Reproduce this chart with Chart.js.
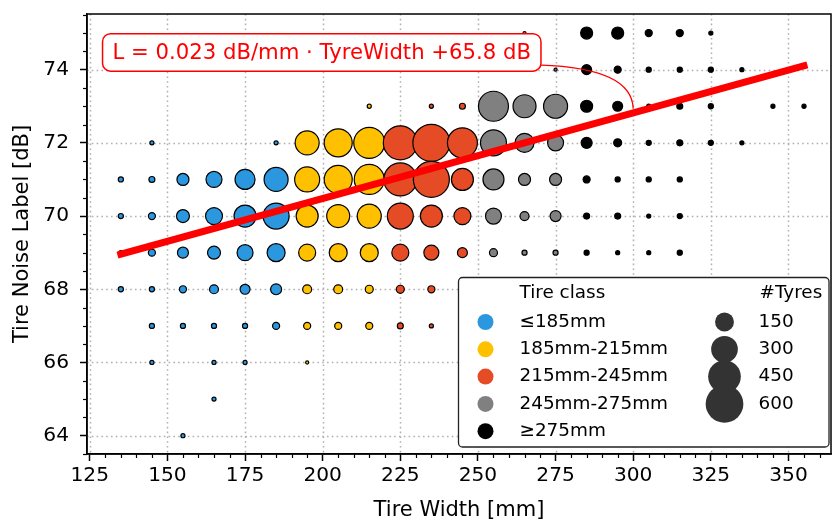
<!DOCTYPE html>
<html>
<head>
<meta charset="utf-8">
<script src="https://cdn.jsdelivr.net/npm/chart.js@4.4.1/dist/chart.umd.min.js"></script>
<style>
  html, body { margin: 0; padding: 0; background: #ffffff; }
  #wrap { width: 833px; height: 523px; }
  canvas { display: block; }
</style>
</head>
<body>
<div id="wrap"><canvas id="noiseChart" width="833" height="523"></canvas></div>
<script>
// Tyre widths (mm) on the x axis and noise label levels (dB) on the y axis
const tyreWidths = [135, 145, 155, 165, 175, 185, 195, 205, 215, 225, 235, 245,
                    255, 265, 275, 285, 295, 305, 315, 325, 335, 345, 355];
const noiseLevels = [75, 74, 73, 72, 71, 70, 69, 68, 67, 66, 65, 64];

// Number of tyres for each width at a given noise label (0 = no tyres)
const tyres75 = [0, 0, 0, 0, 0, 0, 0, 0, 0, 0, 0, 0, 0, 4, 0, 61, 61, 21, 21, 7, 0, 0, 0];
const tyres74 = [0, 0, 0, 0, 0, 0, 0, 0, 0, 0, 0, 0, 0, 0, 4, 42, 21, 11, 11, 11, 7, 0, 0];
const tyres73 = [0, 0, 0, 0, 0, 0, 0, 0, 7, 0, 7, 15, 379, 223, 243, 61, 42, 7, 15, 11, 0, 7, 7];
const tyres72 = [0, 7, 0, 0, 0, 7, 243, 331, 405, 487, 577, 379, 285, 152, 108, 51, 27, 11, 15, 11, 7, 0, 0];
const tyres71 = [11, 15, 61, 108, 169, 243, 264, 331, 379, 459, 546, 204, 186, 61, 61, 21, 11, 11, 11, 0, 0, 0, 0];
const tyres70 = [11, 21, 71, 122, 204, 285, 204, 223, 243, 285, 204, 122, 108, 34, 51, 15, 15, 7, 11, 0, 0, 0, 0];
const tyres69 = [7, 21, 51, 71, 108, 137, 122, 137, 137, 122, 95, 42, 27, 11, 11, 11, 7, 7, 11, 0, 0, 0, 0];
const tyres68 = [11, 11, 21, 34, 42, 51, 34, 34, 27, 27, 21, 0, 0, 0, 0, 0, 0, 0, 0, 0, 0, 0, 0];
const tyres67 = [0, 11, 11, 11, 11, 21, 21, 21, 21, 15, 7, 0, 0, 0, 0, 0, 0, 0, 0, 0, 0, 0, 0];
const tyres66 = [0, 7, 0, 7, 7, 0, 4, 0, 0, 0, 0, 0, 0, 0, 0, 0, 0, 0, 0, 0, 0, 0, 0];
const tyres65 = [0, 0, 0, 7, 0, 0, 0, 0, 0, 0, 0, 0, 0, 0, 0, 0, 0, 0, 0, 0, 0, 0, 0];
const tyres64 = [0, 0, 7, 0, 0, 0, 0, 0, 0, 0, 0, 0, 0, 0, 0, 0, 0, 0, 0, 0, 0, 0, 0];
const tyreRows = [tyres75, tyres74, tyres73, tyres72, tyres71, tyres70,
                  tyres69, tyres68, tyres67, tyres66, tyres65, tyres64];

// Width classes
const classNames = ['≤185mm', '185mm-215mm', '215mm-245mm', '245mm-275mm', '≥275mm'];
const classUpperWidth = [185, 215, 245, 275, Infinity];
const classColors = ['#2b97de', '#ffc000', '#e54c26', '#808080', '#000000'];

// Size key
const sizeKeyCounts = [150, 300, 450, 600];

// Linear fit of noise label against tyre width
const fitSlope = 0.0234;
const fitIntercept = 65.8;
const fitWidths = [135, 355];
const notePointWidth = 300;

// Axis ticks
const xTickValues = [125, 150, 175, 200, 225, 250, 275, 300, 325, 350];
const yTickValues = [64, 66, 68, 70, 72, 74];

const FONT = '"DejaVu Sans", "Liberation Sans", sans-serif';
const bubbleRadius = n => 0.77 * Math.sqrt(n);
const fitValue = w => fitSlope * w + fitIntercept;

function classOf(w) {
  for (let i = 0; i < classUpperWidth.length; i++) if (w <= classUpperWidth[i]) return i;
  return classUpperWidth.length - 1;
}

// One bubble dataset per width class
const bubbleSets = classNames.map((name, ci) => {
  const pts = [];
  tyreRows.forEach((row, ri) => {
    row.forEach((n, wi) => {
      if (n > 0 && classOf(tyreWidths[wi]) === ci) {
        pts.push({ x: tyreWidths[wi], y: noiseLevels[ri], r: bubbleRadius(n), n });
      }
    });
  });
  pts.sort((a, b) => a.x - b.x);
  return {
    type: 'bubble',
    label: name,
    data: pts,
    backgroundColor: classColors[ci],
    borderColor: '#000000',
    borderWidth: 1.2,
    order: classNames.length - ci
  };
});

const fitSet = {
  type: 'line',
  label: 'fit',
  data: fitWidths.map(w => ({ x: w, y: fitValue(w) })),
  borderColor: '#ff0000',
  borderWidth: 7,
  borderCapStyle: 'square',
  pointRadius: 0,
  fill: false,
  order: 0
};

// Dotted grid, minor ticks and the frame
const framePlugin = {
  id: 'frame',
  beforeDatasetsDraw(chart) {
    const { ctx, chartArea: a, scales: { x, y } } = chart;
    ctx.save();
    ctx.strokeStyle = '#b0b0b0';
    ctx.lineWidth = 1.5;
    ctx.setLineDash([1.6, 3.2]);
    xTickValues.forEach(v => {
      const px = Math.round(x.getPixelForValue(v)) + 0.5;
      ctx.beginPath(); ctx.moveTo(px, a.top); ctx.lineTo(px, a.bottom); ctx.stroke();
    });
    yTickValues.forEach(v => {
      const py = Math.round(y.getPixelForValue(v)) + 0.5;
      ctx.beginPath(); ctx.moveTo(a.left, py); ctx.lineTo(a.right, py); ctx.stroke();
    });
    ctx.restore();
  },
  afterDraw(chart) {
    const { ctx, chartArea: a, scales: { x, y } } = chart;
    ctx.save();
    ctx.strokeStyle = '#000000';
    ctx.lineWidth = 1.2;
    for (let v = 125; v <= x.max; v += 5) {
      if (v % 25 === 0) continue;
      const px = Math.round(x.getPixelForValue(v)) + 0.5;
      ctx.beginPath(); ctx.moveTo(px, a.bottom); ctx.lineTo(px, a.bottom + 4); ctx.stroke();
    }
    for (let v = 63.5; v <= y.max; v += 0.5) {
      if (v % 2 === 0) continue;
      const py = Math.round(y.getPixelForValue(v)) + 0.5;
      ctx.beginPath(); ctx.moveTo(a.left, py); ctx.lineTo(a.left - 4, py); ctx.stroke();
    }
    ctx.lineWidth = 1.5;
    ctx.strokeRect(a.left, a.top, a.right - a.left, a.bottom - a.top);
    ctx.restore();
  }
};

function roundRect(ctx, x0, y0, w, h, r) {
  ctx.beginPath();
  ctx.moveTo(x0 + r, y0);
  ctx.lineTo(x0 + w - r, y0);
  ctx.arcTo(x0 + w, y0, x0 + w, y0 + r, r);
  ctx.lineTo(x0 + w, y0 + h - r);
  ctx.arcTo(x0 + w, y0 + h, x0 + w - r, y0 + h, r);
  ctx.lineTo(x0 + r, y0 + h);
  ctx.arcTo(x0, y0 + h, x0, y0 + h - r, r);
  ctx.lineTo(x0, y0 + r);
  ctx.arcTo(x0, y0, x0 + r, y0, r);
  ctx.closePath();
}

// Fit equation callout
const notePlugin = {
  id: 'note',
  afterDraw(chart) {
    const { ctx, scales: { x, y } } = chart;
    const text = 'L = ' + fitSlope.toFixed(3) + ' dB/mm · TyreWidth +' + fitIntercept.toFixed(1) + ' dB';
    ctx.save();
    ctx.font = '21.2px ' + FONT;
    const w = ctx.measureText(text).width;
    const cx = x.getPixelForValue(199.7);
    const cy = y.getPixelForValue(74.47);
    const bx = cx - w / 2 - 10, by = cy - 18.7, bw = w + 20, bh = 37.4;
    // connector to the fit line
    const sx = bx + bw, sy = by + bh - 6;
    const ex = x.getPixelForValue(notePointWidth), ey = y.getPixelForValue(fitValue(notePointWidth)) - 4;
    ctx.strokeStyle = '#ff0000';
    ctx.lineWidth = 1.3;
    ctx.beginPath();
    ctx.moveTo(sx, sy);
    ctx.quadraticCurveTo(ex - 1, sy + 3, ex, ey);
    ctx.stroke();
    roundRect(ctx, bx, by, bw, bh, 8);
    ctx.fillStyle = '#ffffff';
    ctx.fill();
    ctx.lineWidth = 1.5;
    ctx.stroke();
    ctx.fillStyle = '#ff0000';
    ctx.textAlign = 'center';
    ctx.textBaseline = 'middle';
    ctx.fillText(text, cx, cy + 1);
    ctx.restore();
  }
};

// Two-column key: width classes and bubble sizes
const keyPlugin = {
  id: 'key',
  afterDraw(chart) {
    const { ctx, chartArea: a } = chart;
    const bw = 370.5, bh = 169.5;
    const bx = a.right - 2 - bw, by = a.bottom - 7 - bh;
    ctx.save();
    roundRect(ctx, bx, by, bw, bh, 4);
    ctx.fillStyle = '#ffffff';
    ctx.fill();
    ctx.strokeStyle = '#222222';
    ctx.lineWidth = 1.3;
    ctx.stroke();
    ctx.font = '18.4px ' + FONT;
    ctx.textBaseline = 'middle';
    ctx.textAlign = 'left';
    ctx.fillStyle = '#000000';
    const rowY = i => by + 44.5 + i * 27.3;
    ctx.fillText('Tire class', bx + 61, by + 16);
    ctx.fillText('#Tyres', bx + 301, by + 16);
    classNames.forEach((name, i) => {
      ctx.beginPath();
      ctx.arc(bx + 27, rowY(i), 8, 0, Math.PI * 2);
      ctx.fillStyle = classColors[i];
      ctx.fill();
      ctx.fillStyle = '#000000';
      ctx.fillText(name, bx + 61, rowY(i));
    });
    sizeKeyCounts.forEach((n, i) => {
      ctx.beginPath();
      ctx.arc(bx + 266, rowY(i), bubbleRadius(n), 0, Math.PI * 2);
      ctx.fillStyle = '#333333';
      ctx.fill();
      ctx.fillStyle = '#000000';
      ctx.fillText(String(n), bx + 300, rowY(i));
    });
    ctx.restore();
  }
};

new Chart(document.getElementById('noiseChart'), {
  type: 'bubble',
  data: { datasets: [...bubbleSets, fitSet] },
  options: {
    responsive: false,
    animation: false,
    events: [],
    layout: { autoPadding: false, padding: { top: 14, right: 2, left: 0, bottom: 0 } },
    plugins: { legend: { display: false }, tooltip: { enabled: false } },
    scales: {
      x: {
        type: 'linear',
        min: 124.1,
        max: 363.7,
        afterBuildTicks: s => { s.ticks = xTickValues.map(v => ({ value: v })); },
        afterFit: s => { s.height = 69; s.paddingLeft = 0; s.paddingRight = 0; },
        ticks: { font: { family: FONT, size: 20.2 }, color: '#000000', padding: 3, maxRotation: 0, autoSkip: false },
        grid: { drawOnChartArea: false, drawTicks: true, tickLength: 7, tickWidth: 1.5, tickColor: '#000000' },
        border: { display: true, color: '#000000', width: 1.5 },
        title: { display: true, text: 'Tire Width [mm]', color: '#000000',
                 font: { family: FONT, size: 21, lineHeight: 1.2 }, padding: { top: 0, bottom: 0 } }
      },
      y: {
        type: 'linear',
        min: 63.5,
        max: 75.52,
        afterBuildTicks: s => { s.ticks = yTickValues.map(v => ({ value: v })); },
        afterFit: s => { s.width = 87; s.paddingTop = 0; s.paddingBottom = 0; },
        ticks: { font: { family: FONT, size: 20.2 }, color: '#000000', padding: 11, autoSkip: false },
        grid: { drawOnChartArea: false, drawTicks: true, tickLength: 7, tickWidth: 1.5, tickColor: '#000000' },
        border: { display: true, color: '#000000', width: 1.5 },
        title: { display: true, text: 'Tire Noise Label [dB]', color: '#000000',
                 font: { family: FONT, size: 21, lineHeight: 1.2 }, padding: { top: 10, bottom: 0 } }
      }
    }
  },
  plugins: [framePlugin, notePlugin, keyPlugin]
});
</script>
</body>
</html>
